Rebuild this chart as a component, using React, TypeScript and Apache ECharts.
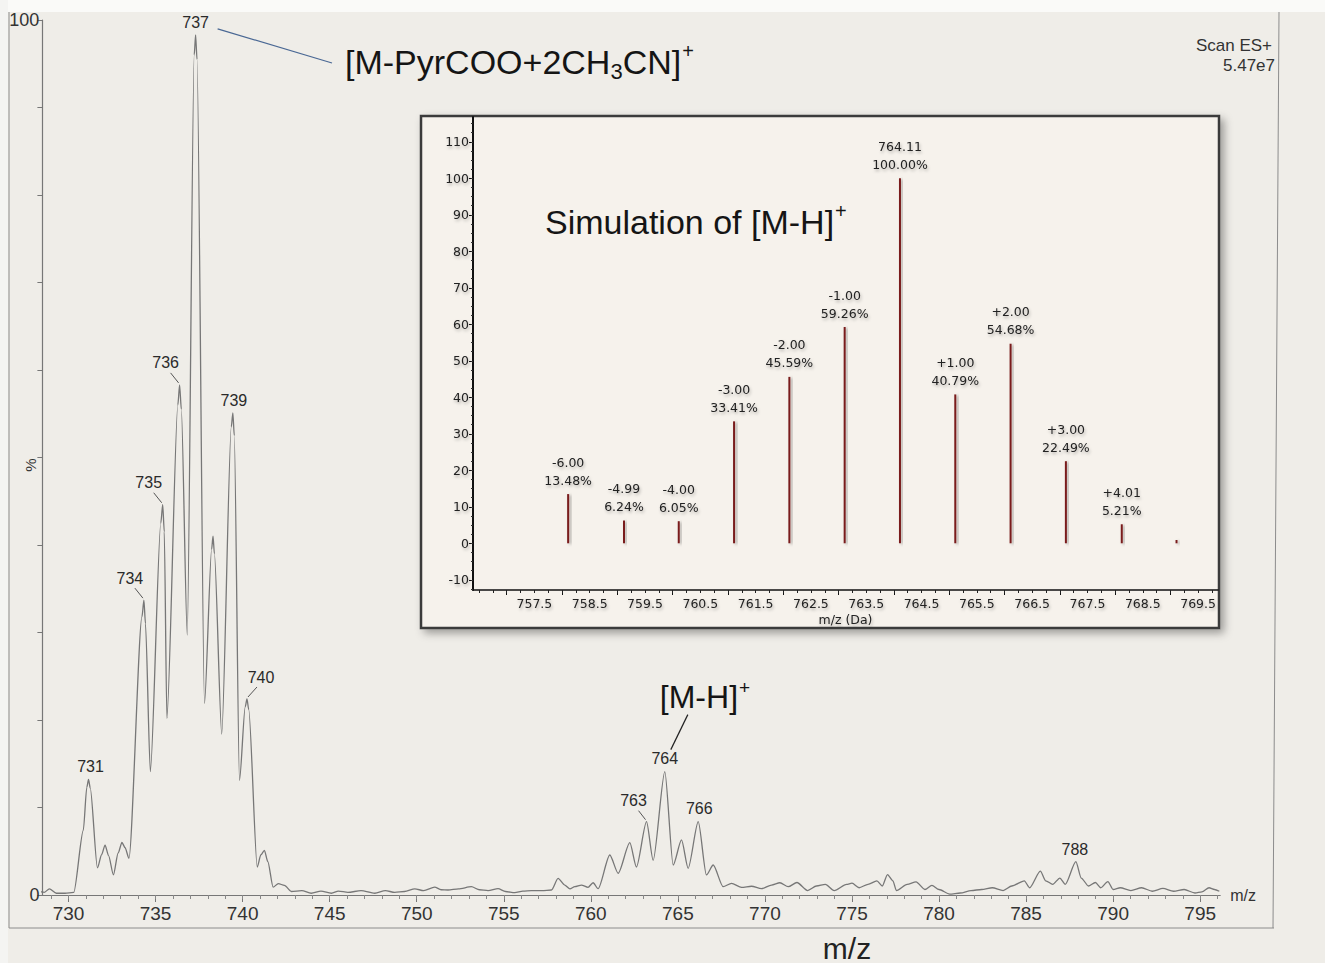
import React, { useEffect, useRef } from "react";
import * as echarts from "echarts";

// ---------- main ESI spectrum profile: [m/z, relative intensity %] ----------
const clusterA: [number, number][] = [
  [728.0, 1.0], [728.3, 0.4], [728.6, 0.3], [728.9, 0.7], [729.3, 0.2], [729.8, 0.2], [730.3, 0.3],
  [730.85, 7.4], [731.05, 12.3], [731.15, 13.2], [731.25, 12.2], [731.66, 3.1],
  [731.9, 4.6], [732.1, 5.7], [732.3, 4.5], [732.58, 2.3], [732.85, 4.8], [733.07, 6.0], [733.25, 5.4], [733.47, 4.2],
  [734.22, 31.8], [734.33, 33.7], [734.42, 31.0], [734.7, 14.1],
  [735.3, 42.5], [735.41, 44.6], [735.5, 41.5], [735.65, 20.2],
  [736.28, 56.0], [736.38, 58.3], [736.48, 55.5], [736.82, 29.7],
  [737.22, 96.0], [737.3, 98.3], [737.38, 95.5], [737.81, 21.9],
  [738.22, 39.5], [738.3, 41.0], [738.38, 39.0], [738.8, 18.4],
  [739.35, 53.5], [739.44, 55.1], [739.52, 52.5], [739.82, 13.1],
  [740.15, 21.5], [740.25, 22.4], [740.35, 21.2], [740.84, 3.2],
  [741.05, 4.6], [741.25, 5.1], [741.45, 3.8], [741.75, 0.9], [742.05, 1.3], [742.4, 1.1], [742.8, 0.4], [743.4, 0.5],
];

const baselineMid: [number, number][] = [
  [743.94, 0.2], [744.5, 0.45], [745.1, 0.2], [745.5, 0.45], [746.05, 0.3], [746.8, 0.5], [747.59, 0.2],
  [748.2, 0.5], [748.74, 0.3], [749.3, 0.4], [749.89, 0.7], [750.4, 0.5], [751.03, 0.9], [751.4, 0.6],
  [751.8, 0.57], [752.4, 0.7], [753.14, 0.95], [753.6, 0.6], [754.1, 0.5], [754.67, 0.72], [755.1, 0.4],
  [755.63, 0.27], [756.1, 0.45], [756.59, 0.5], [757.2, 0.5], [757.74, 0.57],
];

const clusterB: [number, number][] = [
  [758.12, 1.9], [758.5, 1.14], [758.8, 0.7], [759.08, 0.95], [759.46, 1.14], [759.84, 0.88], [760.13, 1.4],
  [760.42, 0.72], [761.09, 4.57], [761.57, 2.48], [762.24, 5.98], [762.62, 3.2], [763.2, 8.38], [763.58, 3.96],
  [764.25, 14.1], [764.73, 3.43], [765.21, 6.29], [765.59, 3.05], [766.17, 8.38], [766.64, 2.29], [767.03, 3.43],
  [767.6, 0.95], [768.08, 1.33], [768.66, 0.88], [769.23, 1.0], [769.8, 0.72], [770.38, 1.14], [770.86, 1.4],
  [771.34, 0.95],
];

const tail: [number, number][] = [
  [771.84, 1.43], [772.45, 0.51], [772.96, 1.03], [773.47, 1.22], [773.98, 0.51], [774.69, 1.22], [775.0, 1.35],
  [775.41, 0.83], [775.92, 1.22], [776.43, 1.62], [776.74, 1.03], [777.04, 2.34], [777.35, 1.62], [777.55, 0.51],
  [778.17, 1.22], [778.68, 1.5], [779.19, 0.63], [779.59, 1.11], [780.0, 0.63], [780.61, 0.1], [781.22, 0.23],
  [781.84, 0.51], [782.45, 0.63], [783.06, 0.83], [783.68, 0.51], [784.18, 1.03], [784.9, 1.62], [785.2, 0.83],
  [785.82, 2.73], [786.13, 1.62], [786.53, 1.22], [786.94, 1.94], [787.25, 1.22], [787.86, 3.81], [788.17, 1.94],
  [788.58, 1.03], [788.98, 1.43], [789.29, 0.83], [789.7, 1.54], [790.0, 0.63], [790.41, 0.83], [791.02, 0.51],
  [791.64, 0.83], [792.25, 0.43], [792.86, 0.75], [793.47, 0.43], [794.08, 0.63], [794.7, 0.23], [795.1, 0.35],
  [795.51, 0.83], [795.82, 0.63], [796.1, 0.43],
];

// labelled peaks of the main spectrum
const peakLabelMz = [731.15, 734.33, 735.41, 736.38, 737.3, 739.44, 740.25, 763.2, 764.25, 766.17, 787.86];
const peakLabelText = ["731", "734", "735", "736", "737", "739", "740", "763", "764", "766", "788"];

// main axis ticks / labels
const mainLabelTicks = [730, 735, 740, 745, 750, 755, 760, 765, 770, 775, 780, 785, 790, 795];
const mainYLabels = [0, 100];
const mainYTicks = [0, 10, 20, 30, 40, 50, 60, 70, 80, 90, 100];

// ---------- simulated isotope pattern of [M-H]+ ----------
const simMz = [758.11, 759.12, 760.11, 761.11, 762.11, 763.11, 764.11, 765.11, 766.11, 767.11, 768.12, 769.11];
const simPct = [13.48, 6.24, 6.05, 33.41, 45.59, 59.26, 100.0, 40.79, 54.68, 22.49, 5.21, 0.9];
const simShift = ["-6.00", "-4.99", "-4.00", "-3.00", "-2.00", "-1.00", "764.11", "+1.00", "+2.00", "+3.00", "+4.01", ""];
const simXLabels = [757.5, 758.5, 759.5, 760.5, 761.5, 762.5, 763.5, 764.5, 765.5, 766.5, 767.5, 768.5, 769.5];
const simYLabels = [-10, 0, 10, 20, 30, 40, 50, 60, 70, 80, 90, 100, 110];

// ---------- style helpers (no data) ----------
const SANS = '"Liberation Sans", Arial, Helvetica, sans-serif';
const VERD = '"DejaVu Sans", Verdana, sans-serif';

const labelStyles: Record<string, { dx: number; dy: number; line?: number[] }> = {
  "731": { dx: 2, dy: -13 },
  "734": { dx: -14, dy: -22, line: [-9, -12, -1, -2] },
  "735": { dx: -14, dy: -22, line: [-9, -12, -1, -2] },
  "736": { dx: -14, dy: -22, line: [-9, -12, -1, -2] },
  "737": { dx: 0, dy: -12 },
  "739": { dx: 1, dy: -12 },
  "740": { dx: 14, dy: -22, line: [10, -12, 1, -2] },
  "763": { dx: -13, dy: -21, line: [-8, -11, -1, -2] },
  "764": { dx: 0, dy: -13 },
  "766": { dx: 1, dy: -13 },
  "788": { dx: -1, dy: -12 },
};

function range(a: number, b: number, step: number): number[] {
  const out: number[] = [];
  for (let v = a; v <= b + 1e-9; v += step) out.push(Math.round(v * 1000) / 1000);
  return out;
}

const insetShadow = {
  textShadowColor: "rgba(0,0,0,0.28)", textShadowBlur: 3, textShadowOffsetX: 1, textShadowOffsetY: 2,
};

export default function App() {
  const ref = useRef<HTMLDivElement>(null);

  useEffect(() => {
    if (!ref.current) return;
    const chart = echarts.init(ref.current, undefined, { renderer: "svg" });

    const spectrum = [...clusterA, ...baselineMid, ...clusterB, ...tail];
    const lookup = (mz: number) => {
      const p = spectrum.find((d) => Math.abs(d[0] - mz) < 1e-6);
      return p ? p[1] : 0;
    };
    const labelData = peakLabelMz.map((m, i) => [m, lookup(m), i]);

    const xMin = 728.5;
    const xMax = 796.15;

    const option: any = {
      animation: false,
      backgroundColor: "#efede8",
      grid: [
        { left: 42.4, right: 104.8, top: 20, bottom: 68, containLabel: false, outerBoundsMode: "none" },
        { left: 473, right: 107, top: 117, bottom: 373, containLabel: false, outerBoundsMode: "none" },
      ],
      xAxis: [
        {
          type: "value", gridIndex: 0, min: xMin, max: xMax, z: 2, position: "bottom",
          axisLine: { onZero: false, lineStyle: { color: "#777", width: 1.2 } },
          axisTick: { customValues: mainLabelTicks, length: 7, lineStyle: { color: "#777" } },
          axisLabel: { customValues: mainLabelTicks, color: "#333", fontSize: 19, fontFamily: SANS, margin: 9 },
          splitLine: { show: false },
          name: "m/z", nameLocation: "end", nameGap: 10,
          nameTextStyle: { color: "#333", fontSize: 16, fontFamily: SANS, verticalAlign: "middle" },
        },
        {
          type: "value", gridIndex: 0, min: xMin, max: xMax, z: 2, position: "bottom",
          axisLine: { show: false, onZero: false },
          axisTick: { customValues: range(729, 796, 1), length: 4, lineStyle: { color: "#888" } },
          axisLabel: { show: false },
          splitLine: { show: false },
        },
        {
          type: "value", gridIndex: 1, min: 756.39, max: 769.86, z: 5, position: "bottom",
          axisLine: { onZero: false, lineStyle: { color: "#111", width: 1.5 } },
          axisTick: { customValues: range(757, 769, 1), length: 5, lineStyle: { color: "#111" } },
          axisLabel: {
            customValues: simXLabels, color: "#222", fontSize: 12.5, fontFamily: VERD, margin: 7,
            formatter: (v: number) => v.toFixed(1), ...insetShadow,
          },
          splitLine: { show: false },
          name: "m/z (Da)", nameLocation: "middle", nameGap: 23,
          nameTextStyle: { color: "#222", fontSize: 12.5, fontFamily: VERD, ...insetShadow },
        },
        {
          type: "value", gridIndex: 1, min: 756.39, max: 769.86, z: 5, position: "bottom",
          axisLine: { show: false, onZero: false },
          axisTick: { customValues: range(756.5, 769.75, 0.25), length: 3, lineStyle: { color: "#222" } },
          axisLabel: { show: false },
          splitLine: { show: false },
        },
      ],
      yAxis: [
        {
          type: "value", gridIndex: 0, min: 0, max: 100, z: 2, position: "left",
          axisLine: { show: true, onZero: false, lineStyle: { color: "#777", width: 1.2 } },
          axisTick: { show: true, customValues: mainYTicks, length: 5, lineStyle: { color: "#777" } },
          axisLabel: { customValues: mainYLabels, color: "#333", fontSize: 18, fontFamily: SANS, margin: 3 },
          splitLine: { show: false },
        },
        {
          type: "value", gridIndex: 1, min: -12.8, max: 116.8, z: 5, position: "left",
          axisLine: { show: true, onZero: false, lineStyle: { color: "#111", width: 2 } },
          axisTick: { show: true, customValues: simYLabels, length: 4, lineStyle: { color: "#111" } },
          axisLabel: { customValues: simYLabels, color: "#222", fontSize: 12.5, fontFamily: VERD, margin: 4, ...insetShadow },
          splitLine: { show: false },
        },
        {
          type: "value", gridIndex: 1, min: -12.8, max: 116.8, z: 5, position: "left",
          axisLine: { show: false, onZero: false },
          axisTick: { show: true, customValues: range(-12.5, 115, 2.5), length: 2, lineStyle: { color: "#333" } },
          axisLabel: { show: false },
          splitLine: { show: false },
        },
      ],
      graphic: [
        { type: "rect", z: 0, shape: { x: 0, y: 0, width: 1325, height: 12 }, style: { fill: "#fafaf8" } },
        { type: "rect", z: 0, shape: { x: 0, y: 0, width: 8, height: 963 }, style: { fill: "#f4f4f2" } },
        { type: "line", z: 1, shape: { x1: 9, y1: 12, x2: 9, y2: 928 }, style: { stroke: "#8c8c8c", lineWidth: 1 } },
        { type: "line", z: 1, shape: { x1: 9, y1: 928, x2: 1274, y2: 928 }, style: { stroke: "#8c8c8c", lineWidth: 1 } },
        { type: "line", z: 1, shape: { x1: 1279, y1: 12, x2: 1273, y2: 928 }, style: { stroke: "#8c8c8c", lineWidth: 1 } },
        {
          type: "text", z: 6, x: 30, y: 465, rotation: Math.PI / 2,
          style: { text: "%", fontSize: 15, fontFamily: SANS, fill: "#333", textAlign: "center", align: "center", textVerticalAlign: "middle", verticalAlign: "middle" },
        },
        {
          type: "rect", z: 3,
          shape: { x: 421, y: 116, width: 798, height: 512 },
          style: {
            fill: "#f6f2ec", stroke: "#3a3a3a", lineWidth: 2.5,
            shadowBlur: 8, shadowOffsetX: 4, shadowOffsetY: 4, shadowColor: "rgba(0,0,0,0.35)",
          },
        },
        {
          type: "text", z: 6, x: 545, y: 222,
          style: {
            text: "{a|Simulation of [M-H]}{s|+}",
            textVerticalAlign: "middle", verticalAlign: "middle",
            rich: {
              a: { fontSize: 34, fontFamily: SANS, fill: "#151515", color: "#151515", lineHeight: 42, verticalAlign: "middle" },
              s: { fontSize: 20, fontFamily: SANS, fill: "#151515", color: "#151515", lineHeight: 42, verticalAlign: "top", padding: [0, 0, 0, 1] },
            },
          },
        },
        {
          type: "text", z: 6, x: 345, y: 62,
          style: {
            text: "{a|[M-PyrCOO+2CH}{b|3}{a|CN]}{s|+}",
            textVerticalAlign: "middle", verticalAlign: "middle",
            rich: {
              a: { fontSize: 34, fontFamily: SANS, fill: "#151515", color: "#151515", lineHeight: 42, verticalAlign: "middle" },
              b: { fontSize: 22, fontFamily: SANS, fill: "#151515", color: "#151515", lineHeight: 42, verticalAlign: "bottom", padding: [0, 0, 1, 0] },
              s: { fontSize: 20, fontFamily: SANS, fill: "#151515", color: "#151515", lineHeight: 42, verticalAlign: "top", padding: [0, 0, 0, 1] },
            },
          },
        },
        {
          type: "text", z: 6, x: 1272, y: 45,
          style: { text: "Scan ES+", fontSize: 17, fontFamily: SANS, fill: "#333", textAlign: "right", align: "right", textVerticalAlign: "middle", verticalAlign: "middle" },
        },
        {
          type: "text", z: 6, x: 1275, y: 65,
          style: { text: "5.47e7", fontSize: 17, fontFamily: SANS, fill: "#333", textAlign: "right", align: "right", textVerticalAlign: "middle", verticalAlign: "middle" },
        },
        {
          type: "text", z: 6, x: 847, y: 948,
          style: { text: "m/z", fontSize: 30, fontFamily: SANS, fill: "#222", textAlign: "center", align: "center", textVerticalAlign: "middle", verticalAlign: "middle" },
        },
      ],
      series: [
        {
          type: "line", xAxisIndex: 0, yAxisIndex: 0, z: 2,
          data: spectrum, showSymbol: false, symbol: "none",
          smooth: 0.25, smoothMonotone: "x",
          lineStyle: { color: "#777", width: 1.3 },
          silent: true,
        },
        {
          type: "custom", xAxisIndex: 0, yAxisIndex: 0, z: 4, clip: false,
          data: labelData, silent: true,
          renderItem: (params: any, api: any) => {
            const idx = api.value(2);
            const text = peakLabelText[idx];
            const p = api.coord([api.value(0), api.value(1)]);
            const s = labelStyles[text];
            const children: any[] = [
              {
                type: "text", x: p[0] + s.dx, y: p[1] + s.dy,
                style: {
                  text, fill: "#2a2a2a", fontSize: 16, fontFamily: SANS,
                  textAlign: "center", align: "center", textVerticalAlign: "middle", verticalAlign: "middle",
                },
              },
            ];
            if (s.line) {
              children.push({
                type: "line",
                shape: { x1: p[0] + s.line[0], y1: p[1] + s.line[1], x2: p[0] + s.line[2], y2: p[1] + s.line[3] },
                style: { stroke: "#555", lineWidth: 1 },
              });
            }
            if (text === "737") {
              children.push({
                type: "line",
                shape: { x1: p[0] + 22, y1: p[1] - 6, x2: 332, y2: 63 },
                style: { stroke: "#4a6894", lineWidth: 1.2 },
              });
            }
            if (text === "764") {
              children.push({
                type: "line",
                shape: { x1: p[0] + 6, y1: p[1] - 22, x2: p[0] + 23, y2: p[1] - 57 },
                style: { stroke: "#222", lineWidth: 1.2 },
              });
              children.push({
                type: "text", x: p[0] - 5, y: p[1] - 75,
                style: {
                  text: "{a|[M-H]}{s|+}",
                  textVerticalAlign: "middle", verticalAlign: "middle",
                  rich: {
                    a: { fontSize: 32, fontFamily: SANS, fill: "#151515", color: "#151515", lineHeight: 38, verticalAlign: "middle" },
                    s: { fontSize: 19, fontFamily: SANS, fill: "#151515", color: "#151515", lineHeight: 38, verticalAlign: "top", padding: [0, 0, 0, 1] },
                  },
                },
              });
            }
            return { type: "group", children };
          },
        },
        {
          type: "bar", xAxisIndex: 2, yAxisIndex: 1, z: 6,
          barWidth: 2,
          data: simMz.map((m, i) => [m, simPct[i]]),
          itemStyle: {
            color: "#7a1e1e",
            shadowColor: "rgba(0,0,0,0.35)", shadowBlur: 3, shadowOffsetX: 2, shadowOffsetY: 1,
          },
          label: {
            show: true, position: "top", distance: 5,
            color: "#222", fontSize: 12.5, fontFamily: VERD, lineHeight: 18, ...insetShadow,
            formatter: (p: any) => (simShift[p.dataIndex] ? simShift[p.dataIndex] + "\n" + simPct[p.dataIndex].toFixed(2) + "%" : ""),
          },
          markLine: {
            silent: true, symbol: "none", label: { show: false },
            lineStyle: {
              color: "#9c9c9c", width: 1.5, type: "solid",
              shadowColor: "rgba(0,0,0,0.25)", shadowBlur: 4, shadowOffsetY: 4,
            },
            data: [{ yAxis: 0 }],
          },
          silent: true,
        },
      ],
    };

    chart.setOption(option);
    return () => {
      chart.dispose();
    };
  }, []);

  return (
    <div
      ref={ref}
      style={{ position: "fixed", left: 0, top: 0, width: 1325, height: 963 }}
    />
  );
}
